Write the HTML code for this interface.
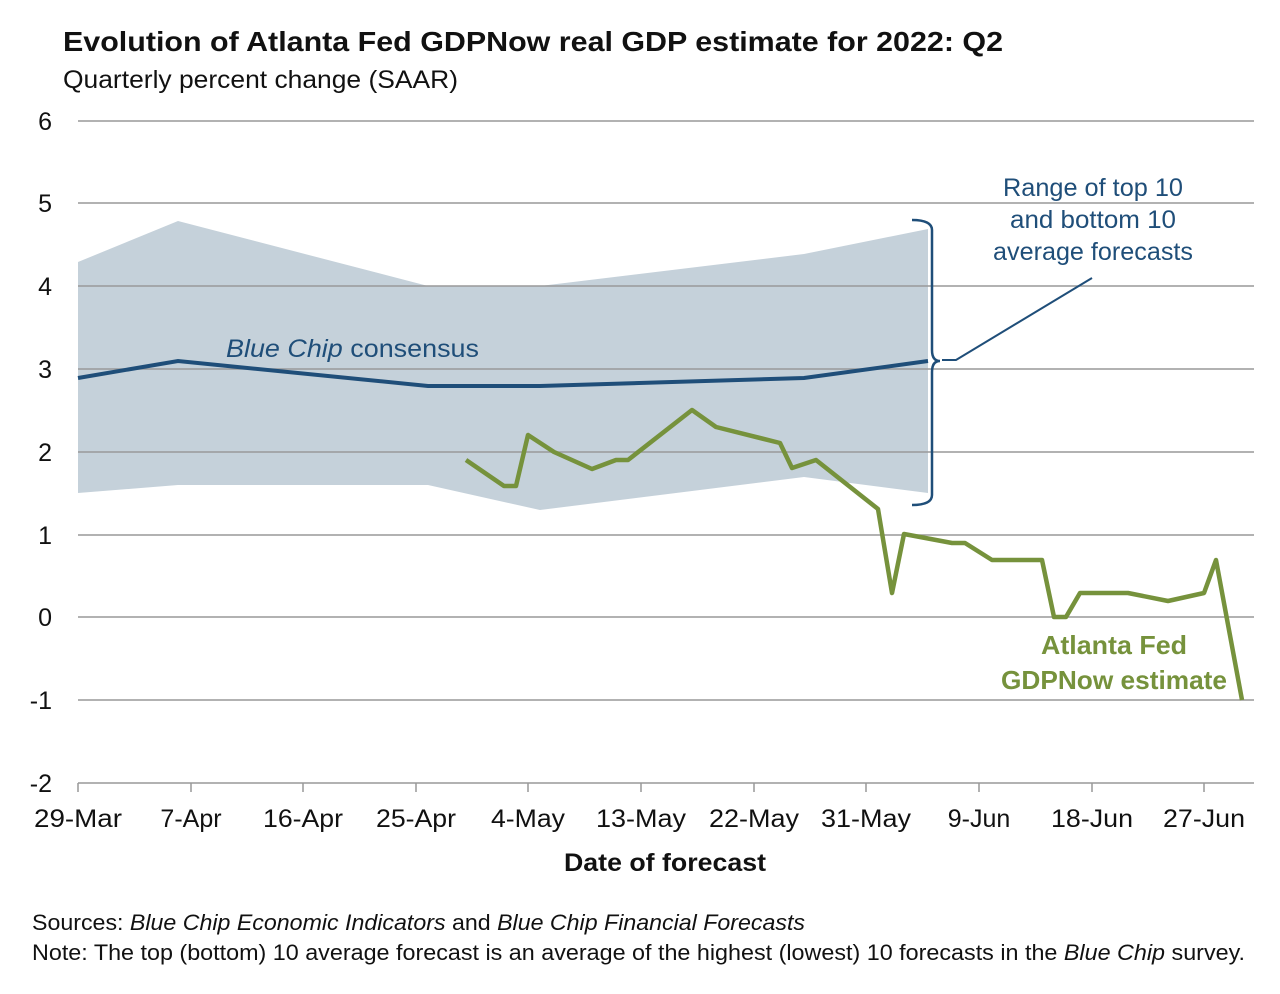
<!DOCTYPE html>
<html><head><style>
body{margin:0;background:#fff;width:1280px;height:989px;overflow:hidden;font-family:"Liberation Sans",sans-serif}
</style></head><body>
<svg width="1280" height="989" viewBox="0 0 1280 989" font-family="Liberation Sans, sans-serif">
<text x="63" y="51" font-size="28" font-weight="bold" fill="#111" textLength="940" lengthAdjust="spacingAndGlyphs">Evolution of Atlanta Fed GDPNow real GDP estimate for 2022: Q2</text>
<text x="63" y="88" font-size="25" fill="#111" textLength="395" lengthAdjust="spacingAndGlyphs">Quarterly percent change (SAAR)</text>
<polygon points="78,262 178,221 428,286 540,286 804,254 928,229 928,493 804,477 540,510 428,485 178,485 78,493" fill="#c5d1da"/>
<g stroke="#999" stroke-width="1.5">
<line x1="78" y1="121" x2="1254" y2="121"/><line x1="78" y1="203" x2="1254" y2="203"/>
<line x1="78" y1="286" x2="1254" y2="286"/><line x1="78" y1="369" x2="1254" y2="369"/>
<line x1="78" y1="452" x2="1254" y2="452"/><line x1="78" y1="535" x2="1254" y2="535"/>
<line x1="78" y1="617" x2="1254" y2="617"/><line x1="78" y1="700" x2="1254" y2="700"/>
<line x1="78" y1="783" x2="1254" y2="783"/>
</g>
<g stroke="#999" stroke-width="1.5">
<line x1="78" y1="783" x2="78" y2="792"/><line x1="191" y1="783" x2="191" y2="792"/><line x1="303" y1="783" x2="303" y2="792"/><line x1="416" y1="783" x2="416" y2="792"/><line x1="528" y1="783" x2="528" y2="792"/><line x1="641" y1="783" x2="641" y2="792"/><line x1="754" y1="783" x2="754" y2="792"/><line x1="866" y1="783" x2="866" y2="792"/><line x1="979" y1="783" x2="979" y2="792"/><line x1="1092" y1="783" x2="1092" y2="792"/><line x1="1204" y1="783" x2="1204" y2="792"/>
</g>
<g font-size="25" fill="#111" text-anchor="end">
<text x="52" y="130">6</text><text x="52" y="212">5</text><text x="52" y="295">4</text><text x="52" y="378">3</text><text x="52" y="461">2</text><text x="52" y="544">1</text><text x="52" y="626">0</text><text x="52" y="709">-1</text><text x="52" y="792">-2</text>
</g>
<g font-size="25" fill="#111" text-anchor="middle">
<text x="78" y="827" textLength="88" lengthAdjust="spacingAndGlyphs">29-Mar</text><text x="191" y="827">7-Apr</text><text x="303" y="827" textLength="80" lengthAdjust="spacingAndGlyphs">16-Apr</text><text x="416" y="827" textLength="80" lengthAdjust="spacingAndGlyphs">25-Apr</text><text x="528" y="827" textLength="74" lengthAdjust="spacingAndGlyphs">4-May</text><text x="641" y="827" textLength="90" lengthAdjust="spacingAndGlyphs">13-May</text><text x="754" y="827" textLength="90" lengthAdjust="spacingAndGlyphs">22-May</text><text x="866" y="827" textLength="90" lengthAdjust="spacingAndGlyphs">31-May</text><text x="979" y="827">9-Jun</text><text x="1092" y="827" textLength="82" lengthAdjust="spacingAndGlyphs">18-Jun</text><text x="1204" y="827" textLength="82" lengthAdjust="spacingAndGlyphs">27-Jun</text>
</g>
<text x="665" y="871" font-size="25" font-weight="bold" text-anchor="middle" fill="#111" textLength="202" lengthAdjust="spacingAndGlyphs">Date of forecast</text>
<polyline points="78,378 178,361 428,386 540,386 804,378 928,361" fill="none" stroke="#1f4e79" stroke-width="4"/>
<text x="226" y="357" font-size="25" fill="#1f4e79" textLength="253" lengthAdjust="spacingAndGlyphs"><tspan font-style="italic">Blue Chip</tspan> consensus</text>
<polyline points="466,460 504,486 516,486 528,435 554,452 592,469 616,460 628,460 692,410 716,427 780,443 792,468 816,460 878,509 892,593 904,534 952,543 965,543 992,560 1042,560 1054,617 1066,617 1080,593 1128,593 1168,601 1204,593 1216,560 1242,700" fill="none" stroke="#76923c" stroke-width="4.5" stroke-linejoin="round"/>
<path d="M912,220 Q932,220 932,230 L932,350 Q932,361 940,361 Q932,361 932,372 L932,495 Q932,505 912,505" fill="none" stroke="#1f4e79" stroke-width="2.5"/>
<polyline points="942,360 956,360 1092,278" fill="none" stroke="#1f4e79" stroke-width="2"/>
<g font-size="25" fill="#1f4e79" text-anchor="middle">
<text x="1093" y="196" textLength="180" lengthAdjust="spacingAndGlyphs">Range of top 10</text><text x="1093" y="228" textLength="166" lengthAdjust="spacingAndGlyphs">and bottom 10</text><text x="1093" y="260" textLength="200" lengthAdjust="spacingAndGlyphs">average forecasts</text>
</g>
<g font-size="26" font-weight="bold" fill="#76923c" text-anchor="middle">
<text x="1114" y="654" textLength="146" lengthAdjust="spacingAndGlyphs">Atlanta Fed</text><text x="1114" y="689" textLength="226" lengthAdjust="spacingAndGlyphs">GDPNow estimate</text>
</g>
<text x="32" y="930" font-size="22" fill="#111" textLength="773" lengthAdjust="spacingAndGlyphs">Sources: <tspan font-style="italic">Blue Chip Economic Indicators</tspan> and <tspan font-style="italic">Blue Chip Financial Forecasts</tspan></text>
<text x="32" y="960" font-size="22" fill="#111" textLength="1213" lengthAdjust="spacingAndGlyphs">Note: The top (bottom) 10 average forecast is an average of the highest (lowest) 10 forecasts in the <tspan font-style="italic">Blue Chip</tspan> survey.</text>
</svg>
</body></html>
